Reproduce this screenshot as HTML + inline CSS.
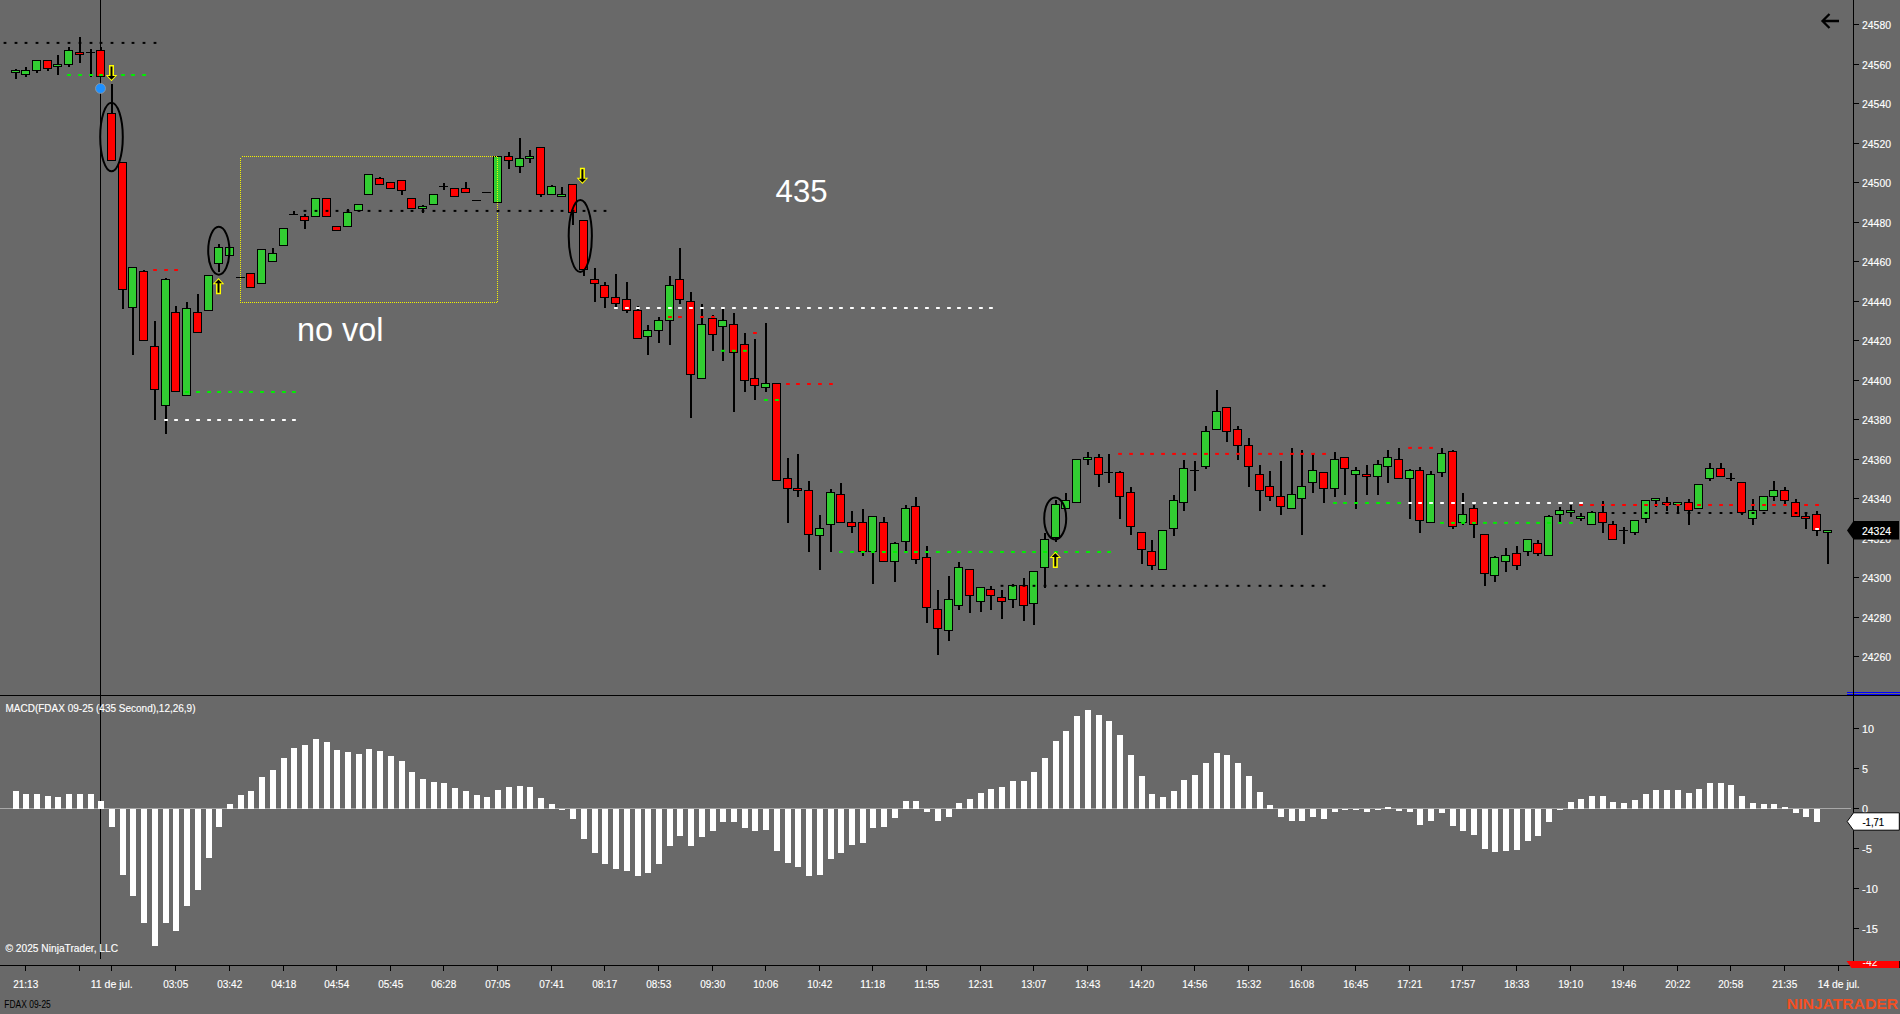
<!DOCTYPE html>
<html><head><meta charset="utf-8"><title>FDAX 09-25 chart</title>
<style>html,body{margin:0;padding:0;background:#696969;}body{width:1900px;height:1014px;overflow:hidden;}svg{display:block;}text{font-family:"Liberation Sans",sans-serif;}.st text,text.st{stroke:#fff;stroke-width:0.15px;}</style>
</head><body>
<svg width="1900" height="1014" viewBox="0 0 1900 1014" shape-rendering="crispEdges">
<rect x="0" y="0" width="1900" height="1014" fill="#696969"/>
<rect x="100" y="0" width="1" height="959" fill="#000"/>
<g id="candles">
<rect x="15" y="69" width="2" height="10" fill="#000"/>
<rect x="11" y="70" width="9" height="3" fill="#000"/><rect x="12" y="71" width="7" height="1" fill="#32cd32"/>
<rect x="25" y="67" width="2" height="10" fill="#000"/>
<rect x="21" y="70" width="9" height="5" fill="#000"/><rect x="22" y="71" width="7" height="3" fill="#32cd32"/>
<rect x="36" y="60" width="2" height="13" fill="#000"/>
<rect x="32" y="60" width="9" height="11" fill="#000"/><rect x="33" y="61" width="7" height="9" fill="#32cd32"/>
<rect x="47" y="60" width="2" height="11" fill="#000"/>
<rect x="43" y="60" width="9" height="9" fill="#000"/><rect x="44" y="61" width="7" height="7" fill="#ff0000"/>
<rect x="57" y="55" width="2" height="20" fill="#000"/>
<rect x="53" y="64" width="9" height="3" fill="#000"/><rect x="54" y="65" width="7" height="1" fill="#32cd32"/>
<rect x="68" y="47" width="2" height="20" fill="#000"/>
<rect x="64" y="50" width="9" height="15" fill="#000"/><rect x="65" y="51" width="7" height="13" fill="#32cd32"/>
<rect x="79" y="37" width="2" height="26" fill="#000"/>
<rect x="75" y="52" width="9" height="3" fill="#000"/><rect x="76" y="53" width="7" height="1" fill="#ff0000"/>
<rect x="90" y="49" width="2" height="28" fill="#000"/>
<rect x="86" y="52" width="9" height="1" fill="#000"/>
<rect x="100" y="47" width="2" height="30" fill="#000"/>
<rect x="96" y="50" width="9" height="27" fill="#000"/><rect x="97" y="51" width="7" height="25" fill="#ff0000"/>
<rect x="111" y="84" width="2" height="77" fill="#000"/>
<rect x="107" y="113" width="9" height="48" fill="#000"/><rect x="108" y="114" width="7" height="46" fill="#ff0000"/>
<rect x="122" y="162" width="2" height="147" fill="#000"/>
<rect x="118" y="162" width="9" height="128" fill="#000"/><rect x="119" y="163" width="7" height="126" fill="#ff0000"/>
<rect x="132" y="268" width="2" height="87" fill="#000"/>
<rect x="128" y="267" width="9" height="41" fill="#000"/><rect x="129" y="268" width="7" height="39" fill="#32cd32"/>
<rect x="143" y="270" width="2" height="71" fill="#000"/>
<rect x="139" y="271" width="9" height="70" fill="#000"/><rect x="140" y="272" width="7" height="68" fill="#ff0000"/>
<rect x="154" y="321" width="2" height="99" fill="#000"/>
<rect x="150" y="346" width="9" height="44" fill="#000"/><rect x="151" y="347" width="7" height="42" fill="#ff0000"/>
<rect x="165" y="278" width="2" height="156" fill="#000"/>
<rect x="161" y="279" width="9" height="127" fill="#000"/><rect x="162" y="280" width="7" height="125" fill="#32cd32"/>
<rect x="175" y="306" width="2" height="86" fill="#000"/>
<rect x="171" y="312" width="9" height="80" fill="#000"/><rect x="172" y="313" width="7" height="78" fill="#ff0000"/>
<rect x="186" y="302" width="2" height="94" fill="#000"/>
<rect x="182" y="308" width="9" height="88" fill="#000"/><rect x="183" y="309" width="7" height="86" fill="#32cd32"/>
<rect x="197" y="294" width="2" height="39" fill="#000"/>
<rect x="193" y="312" width="9" height="21" fill="#000"/><rect x="194" y="313" width="7" height="19" fill="#ff0000"/>
<rect x="208" y="275" width="2" height="36" fill="#000"/>
<rect x="204" y="275" width="9" height="36" fill="#000"/><rect x="205" y="276" width="7" height="34" fill="#32cd32"/>
<rect x="218" y="244" width="2" height="28" fill="#000"/>
<rect x="214" y="247" width="9" height="17" fill="#000"/><rect x="215" y="248" width="7" height="15" fill="#32cd32"/>
<rect x="225" y="247" width="9" height="9" fill="#000"/><rect x="226" y="248" width="7" height="7" fill="#32cd32"/>
<rect x="236" y="277" width="9" height="1" fill="#000"/>
<rect x="246" y="273" width="9" height="15" fill="#000"/><rect x="247" y="274" width="7" height="13" fill="#ff0000"/>
<rect x="257" y="249" width="9" height="35" fill="#000"/><rect x="258" y="250" width="7" height="33" fill="#32cd32"/>
<rect x="272" y="248" width="2" height="14" fill="#000"/>
<rect x="268" y="253" width="9" height="9" fill="#000"/><rect x="269" y="254" width="7" height="7" fill="#32cd32"/>
<rect x="279" y="228" width="9" height="18" fill="#000"/><rect x="280" y="229" width="7" height="16" fill="#32cd32"/>
<rect x="293" y="211" width="2" height="4" fill="#000"/>
<rect x="289" y="214" width="9" height="1" fill="#000"/>
<rect x="304" y="214" width="2" height="15" fill="#000"/>
<rect x="300" y="216" width="9" height="5" fill="#000"/><rect x="301" y="217" width="7" height="3" fill="#ff0000"/>
<rect x="311" y="198" width="9" height="19" fill="#000"/><rect x="312" y="199" width="7" height="17" fill="#32cd32"/>
<rect x="322" y="198" width="9" height="19" fill="#000"/><rect x="323" y="199" width="7" height="17" fill="#ff0000"/>
<rect x="332" y="226" width="9" height="5" fill="#000"/><rect x="333" y="227" width="7" height="3" fill="#ff0000"/>
<rect x="347" y="209" width="2" height="18" fill="#000"/>
<rect x="343" y="212" width="9" height="15" fill="#000"/><rect x="344" y="213" width="7" height="13" fill="#32cd32"/>
<rect x="354" y="204" width="9" height="7" fill="#000"/><rect x="355" y="205" width="7" height="5" fill="#32cd32"/>
<rect x="364" y="174" width="9" height="21" fill="#000"/><rect x="365" y="175" width="7" height="19" fill="#32cd32"/>
<rect x="379" y="177" width="2" height="8" fill="#000"/>
<rect x="375" y="178" width="9" height="7" fill="#000"/><rect x="376" y="179" width="7" height="5" fill="#ff0000"/>
<rect x="386" y="182" width="9" height="7" fill="#000"/><rect x="387" y="183" width="7" height="5" fill="#ff0000"/>
<rect x="401" y="180" width="2" height="15" fill="#000"/>
<rect x="397" y="180" width="9" height="11" fill="#000"/><rect x="398" y="181" width="7" height="9" fill="#ff0000"/>
<rect x="407" y="198" width="9" height="11" fill="#000"/><rect x="408" y="199" width="7" height="9" fill="#ff0000"/>
<rect x="422" y="205" width="2" height="8" fill="#000"/>
<rect x="418" y="206" width="9" height="3" fill="#000"/><rect x="419" y="207" width="7" height="1" fill="#32cd32"/>
<rect x="429" y="194" width="9" height="11" fill="#000"/><rect x="430" y="195" width="7" height="9" fill="#32cd32"/>
<rect x="443" y="183" width="2" height="7" fill="#000"/>
<rect x="439" y="186" width="9" height="1" fill="#000"/>
<rect x="450" y="188" width="9" height="9" fill="#000"/><rect x="451" y="189" width="7" height="7" fill="#ff0000"/>
<rect x="465" y="182" width="2" height="11" fill="#000"/>
<rect x="461" y="188" width="9" height="5" fill="#000"/><rect x="462" y="189" width="7" height="3" fill="#ff0000"/>
<rect x="472" y="200" width="9" height="1" fill="#000"/>
<rect x="482" y="192" width="9" height="1" fill="#000"/>
<rect x="493" y="156" width="9" height="47" fill="#000"/><rect x="494" y="157" width="7" height="45" fill="#32cd32"/>
<rect x="508" y="152" width="2" height="17" fill="#000"/>
<rect x="504" y="156" width="9" height="5" fill="#000"/><rect x="505" y="157" width="7" height="3" fill="#ff0000"/>
<rect x="519" y="138" width="2" height="35" fill="#000"/>
<rect x="515" y="158" width="9" height="9" fill="#000"/><rect x="516" y="159" width="7" height="7" fill="#32cd32"/>
<rect x="529" y="150" width="2" height="13" fill="#000"/>
<rect x="525" y="156" width="9" height="3" fill="#000"/><rect x="526" y="157" width="7" height="1" fill="#32cd32"/>
<rect x="540" y="147" width="2" height="50" fill="#000"/>
<rect x="536" y="147" width="9" height="48" fill="#000"/><rect x="537" y="148" width="7" height="46" fill="#ff0000"/>
<rect x="551" y="185" width="2" height="10" fill="#000"/>
<rect x="547" y="186" width="9" height="9" fill="#000"/><rect x="548" y="187" width="7" height="7" fill="#32cd32"/>
<rect x="561" y="187" width="2" height="10" fill="#000"/>
<rect x="557" y="194" width="9" height="3" fill="#000"/><rect x="558" y="195" width="7" height="1" fill="#32cd32"/>
<rect x="572" y="184" width="2" height="41" fill="#000"/>
<rect x="568" y="184" width="9" height="29" fill="#000"/><rect x="569" y="185" width="7" height="27" fill="#ff0000"/>
<rect x="583" y="220" width="2" height="56" fill="#000"/>
<rect x="579" y="220" width="9" height="50" fill="#000"/><rect x="580" y="221" width="7" height="48" fill="#ff0000"/>
<rect x="594" y="268" width="2" height="34" fill="#000"/>
<rect x="590" y="279" width="9" height="5" fill="#000"/><rect x="591" y="280" width="7" height="3" fill="#ff0000"/>
<rect x="604" y="282" width="2" height="26" fill="#000"/>
<rect x="600" y="285" width="9" height="13" fill="#000"/><rect x="601" y="286" width="7" height="11" fill="#ff0000"/>
<rect x="615" y="274" width="2" height="33" fill="#000"/>
<rect x="611" y="297" width="9" height="7" fill="#000"/><rect x="612" y="298" width="7" height="5" fill="#ff0000"/>
<rect x="626" y="282" width="2" height="31" fill="#000"/>
<rect x="622" y="299" width="9" height="12" fill="#000"/><rect x="623" y="300" width="7" height="10" fill="#ff0000"/>
<rect x="637" y="306" width="2" height="33" fill="#000"/>
<rect x="633" y="310" width="9" height="29" fill="#000"/><rect x="634" y="311" width="7" height="27" fill="#ff0000"/>
<rect x="647" y="325" width="2" height="30" fill="#000"/>
<rect x="643" y="330" width="9" height="7" fill="#000"/><rect x="644" y="331" width="7" height="5" fill="#32cd32"/>
<rect x="658" y="317" width="2" height="26" fill="#000"/>
<rect x="654" y="320" width="9" height="11" fill="#000"/><rect x="655" y="321" width="7" height="9" fill="#32cd32"/>
<rect x="669" y="276" width="2" height="69" fill="#000"/>
<rect x="665" y="285" width="9" height="36" fill="#000"/><rect x="666" y="286" width="7" height="34" fill="#32cd32"/>
<rect x="679" y="248" width="2" height="56" fill="#000"/>
<rect x="675" y="279" width="9" height="21" fill="#000"/><rect x="676" y="280" width="7" height="19" fill="#ff0000"/>
<rect x="690" y="292" width="2" height="126" fill="#000"/>
<rect x="686" y="301" width="9" height="74" fill="#000"/><rect x="687" y="302" width="7" height="72" fill="#ff0000"/>
<rect x="701" y="304" width="2" height="75" fill="#000"/>
<rect x="697" y="324" width="9" height="55" fill="#000"/><rect x="698" y="325" width="7" height="53" fill="#32cd32"/>
<rect x="712" y="315" width="2" height="36" fill="#000"/>
<rect x="708" y="318" width="9" height="17" fill="#000"/><rect x="709" y="319" width="7" height="15" fill="#ff0000"/>
<rect x="722" y="309" width="2" height="52" fill="#000"/>
<rect x="718" y="320" width="9" height="7" fill="#000"/><rect x="719" y="321" width="7" height="5" fill="#32cd32"/>
<rect x="733" y="313" width="2" height="99" fill="#000"/>
<rect x="729" y="324" width="9" height="29" fill="#000"/><rect x="730" y="325" width="7" height="27" fill="#ff0000"/>
<rect x="744" y="333" width="2" height="59" fill="#000"/>
<rect x="740" y="344" width="9" height="37" fill="#000"/><rect x="741" y="345" width="7" height="35" fill="#ff0000"/>
<rect x="754" y="339" width="2" height="61" fill="#000"/>
<rect x="750" y="378" width="9" height="8" fill="#000"/><rect x="751" y="379" width="7" height="6" fill="#ff0000"/>
<rect x="765" y="323" width="2" height="69" fill="#000"/>
<rect x="761" y="383" width="9" height="5" fill="#000"/><rect x="762" y="384" width="7" height="3" fill="#32cd32"/>
<rect x="772" y="383" width="9" height="98" fill="#000"/><rect x="773" y="384" width="7" height="96" fill="#ff0000"/>
<rect x="787" y="458" width="2" height="65" fill="#000"/>
<rect x="783" y="478" width="9" height="11" fill="#000"/><rect x="784" y="479" width="7" height="9" fill="#ff0000"/>
<rect x="797" y="454" width="2" height="43" fill="#000"/>
<rect x="793" y="488" width="9" height="3" fill="#000"/><rect x="794" y="489" width="7" height="1" fill="#ff0000"/>
<rect x="808" y="481" width="2" height="71" fill="#000"/>
<rect x="804" y="490" width="9" height="45" fill="#000"/><rect x="805" y="491" width="7" height="43" fill="#ff0000"/>
<rect x="819" y="515" width="2" height="55" fill="#000"/>
<rect x="815" y="528" width="9" height="8" fill="#000"/><rect x="816" y="529" width="7" height="6" fill="#32cd32"/>
<rect x="830" y="489" width="2" height="63" fill="#000"/>
<rect x="826" y="492" width="9" height="33" fill="#000"/><rect x="827" y="493" width="7" height="31" fill="#32cd32"/>
<rect x="840" y="483" width="2" height="40" fill="#000"/>
<rect x="836" y="494" width="9" height="29" fill="#000"/><rect x="837" y="495" width="7" height="27" fill="#ff0000"/>
<rect x="851" y="511" width="2" height="22" fill="#000"/>
<rect x="847" y="522" width="9" height="5" fill="#000"/><rect x="848" y="523" width="7" height="3" fill="#ff0000"/>
<rect x="862" y="509" width="2" height="47" fill="#000"/>
<rect x="858" y="522" width="9" height="30" fill="#000"/><rect x="859" y="523" width="7" height="28" fill="#ff0000"/>
<rect x="872" y="516" width="2" height="68" fill="#000"/>
<rect x="868" y="516" width="9" height="36" fill="#000"/><rect x="869" y="517" width="7" height="34" fill="#32cd32"/>
<rect x="883" y="517" width="2" height="45" fill="#000"/>
<rect x="879" y="522" width="9" height="40" fill="#000"/><rect x="880" y="523" width="7" height="38" fill="#ff0000"/>
<rect x="894" y="542" width="2" height="40" fill="#000"/>
<rect x="890" y="543" width="9" height="19" fill="#000"/><rect x="891" y="544" width="7" height="17" fill="#32cd32"/>
<rect x="905" y="505" width="2" height="46" fill="#000"/>
<rect x="901" y="508" width="9" height="34" fill="#000"/><rect x="902" y="509" width="7" height="32" fill="#32cd32"/>
<rect x="915" y="497" width="2" height="67" fill="#000"/>
<rect x="911" y="506" width="9" height="54" fill="#000"/><rect x="912" y="507" width="7" height="52" fill="#ff0000"/>
<rect x="926" y="546" width="2" height="77" fill="#000"/>
<rect x="922" y="557" width="9" height="51" fill="#000"/><rect x="923" y="558" width="7" height="49" fill="#ff0000"/>
<rect x="937" y="590" width="2" height="65" fill="#000"/>
<rect x="933" y="609" width="9" height="20" fill="#000"/><rect x="934" y="610" width="7" height="18" fill="#ff0000"/>
<rect x="948" y="576" width="2" height="65" fill="#000"/>
<rect x="944" y="599" width="9" height="32" fill="#000"/><rect x="945" y="600" width="7" height="30" fill="#32cd32"/>
<rect x="958" y="562" width="2" height="48" fill="#000"/>
<rect x="954" y="567" width="9" height="39" fill="#000"/><rect x="955" y="568" width="7" height="37" fill="#32cd32"/>
<rect x="969" y="569" width="2" height="44" fill="#000"/>
<rect x="965" y="569" width="9" height="27" fill="#000"/><rect x="966" y="570" width="7" height="25" fill="#ff0000"/>
<rect x="980" y="587" width="2" height="25" fill="#000"/>
<rect x="976" y="587" width="9" height="15" fill="#000"/><rect x="977" y="588" width="7" height="13" fill="#32cd32"/>
<rect x="990" y="586" width="2" height="24" fill="#000"/>
<rect x="986" y="589" width="9" height="7" fill="#000"/><rect x="987" y="590" width="7" height="5" fill="#ff0000"/>
<rect x="1001" y="590" width="2" height="29" fill="#000"/>
<rect x="997" y="597" width="9" height="5" fill="#000"/><rect x="998" y="598" width="7" height="3" fill="#ff0000"/>
<rect x="1012" y="584" width="2" height="24" fill="#000"/>
<rect x="1008" y="585" width="9" height="15" fill="#000"/><rect x="1009" y="586" width="7" height="13" fill="#32cd32"/>
<rect x="1023" y="578" width="2" height="43" fill="#000"/>
<rect x="1019" y="585" width="9" height="21" fill="#000"/><rect x="1020" y="586" width="7" height="19" fill="#ff0000"/>
<rect x="1033" y="571" width="2" height="54" fill="#000"/>
<rect x="1029" y="571" width="9" height="33" fill="#000"/><rect x="1030" y="572" width="7" height="31" fill="#32cd32"/>
<rect x="1044" y="533" width="2" height="55" fill="#000"/>
<rect x="1040" y="539" width="9" height="29" fill="#000"/><rect x="1041" y="540" width="7" height="27" fill="#32cd32"/>
<rect x="1055" y="500" width="2" height="42" fill="#000"/>
<rect x="1051" y="504" width="9" height="34" fill="#000"/><rect x="1052" y="505" width="7" height="32" fill="#32cd32"/>
<rect x="1065" y="493" width="2" height="16" fill="#000"/>
<rect x="1061" y="500" width="9" height="9" fill="#000"/><rect x="1062" y="501" width="7" height="7" fill="#32cd32"/>
<rect x="1072" y="459" width="9" height="44" fill="#000"/><rect x="1073" y="460" width="7" height="42" fill="#32cd32"/>
<rect x="1087" y="452" width="2" height="13" fill="#000"/>
<rect x="1083" y="457" width="9" height="3" fill="#000"/><rect x="1084" y="458" width="7" height="1" fill="#32cd32"/>
<rect x="1098" y="454" width="2" height="33" fill="#000"/>
<rect x="1094" y="457" width="9" height="18" fill="#000"/><rect x="1095" y="458" width="7" height="16" fill="#ff0000"/>
<rect x="1108" y="454" width="2" height="29" fill="#000"/>
<rect x="1104" y="472" width="9" height="1" fill="#000"/>
<rect x="1119" y="471" width="2" height="48" fill="#000"/>
<rect x="1115" y="472" width="9" height="25" fill="#000"/><rect x="1116" y="473" width="7" height="23" fill="#ff0000"/>
<rect x="1130" y="487" width="2" height="48" fill="#000"/>
<rect x="1126" y="492" width="9" height="35" fill="#000"/><rect x="1127" y="493" width="7" height="33" fill="#ff0000"/>
<rect x="1141" y="532" width="2" height="32" fill="#000"/>
<rect x="1137" y="532" width="9" height="18" fill="#000"/><rect x="1138" y="533" width="7" height="16" fill="#ff0000"/>
<rect x="1151" y="540" width="2" height="30" fill="#000"/>
<rect x="1147" y="551" width="9" height="15" fill="#000"/><rect x="1148" y="552" width="7" height="13" fill="#ff0000"/>
<rect x="1158" y="530" width="9" height="40" fill="#000"/><rect x="1159" y="531" width="7" height="38" fill="#32cd32"/>
<rect x="1173" y="495" width="2" height="41" fill="#000"/>
<rect x="1169" y="500" width="9" height="29" fill="#000"/><rect x="1170" y="501" width="7" height="27" fill="#32cd32"/>
<rect x="1183" y="460" width="2" height="51" fill="#000"/>
<rect x="1179" y="468" width="9" height="35" fill="#000"/><rect x="1180" y="469" width="7" height="33" fill="#32cd32"/>
<rect x="1194" y="461" width="2" height="30" fill="#000"/>
<rect x="1190" y="470" width="9" height="1" fill="#000"/>
<rect x="1205" y="426" width="2" height="43" fill="#000"/>
<rect x="1201" y="431" width="9" height="36" fill="#000"/><rect x="1202" y="432" width="7" height="34" fill="#32cd32"/>
<rect x="1216" y="390" width="2" height="40" fill="#000"/>
<rect x="1212" y="411" width="9" height="19" fill="#000"/><rect x="1213" y="412" width="7" height="17" fill="#32cd32"/>
<rect x="1226" y="407" width="2" height="35" fill="#000"/>
<rect x="1222" y="407" width="9" height="25" fill="#000"/><rect x="1223" y="408" width="7" height="23" fill="#ff0000"/>
<rect x="1237" y="426" width="2" height="34" fill="#000"/>
<rect x="1233" y="429" width="9" height="17" fill="#000"/><rect x="1234" y="430" width="7" height="15" fill="#ff0000"/>
<rect x="1248" y="438" width="2" height="49" fill="#000"/>
<rect x="1244" y="445" width="9" height="22" fill="#000"/><rect x="1245" y="446" width="7" height="20" fill="#ff0000"/>
<rect x="1259" y="465" width="2" height="46" fill="#000"/>
<rect x="1255" y="474" width="9" height="17" fill="#000"/><rect x="1256" y="475" width="7" height="15" fill="#ff0000"/>
<rect x="1269" y="471" width="2" height="30" fill="#000"/>
<rect x="1265" y="486" width="9" height="11" fill="#000"/><rect x="1266" y="487" width="7" height="9" fill="#ff0000"/>
<rect x="1280" y="461" width="2" height="54" fill="#000"/>
<rect x="1276" y="496" width="9" height="11" fill="#000"/><rect x="1277" y="497" width="7" height="9" fill="#ff0000"/>
<rect x="1291" y="448" width="2" height="61" fill="#000"/>
<rect x="1287" y="494" width="9" height="15" fill="#000"/><rect x="1288" y="495" width="7" height="13" fill="#32cd32"/>
<rect x="1301" y="450" width="2" height="85" fill="#000"/>
<rect x="1297" y="486" width="9" height="13" fill="#000"/><rect x="1298" y="487" width="7" height="11" fill="#32cd32"/>
<rect x="1312" y="454" width="2" height="39" fill="#000"/>
<rect x="1308" y="470" width="9" height="13" fill="#000"/><rect x="1309" y="471" width="7" height="11" fill="#32cd32"/>
<rect x="1323" y="472" width="2" height="31" fill="#000"/>
<rect x="1319" y="472" width="9" height="17" fill="#000"/><rect x="1320" y="473" width="7" height="15" fill="#ff0000"/>
<rect x="1334" y="452" width="2" height="45" fill="#000"/>
<rect x="1330" y="459" width="9" height="30" fill="#000"/><rect x="1331" y="460" width="7" height="28" fill="#32cd32"/>
<rect x="1344" y="457" width="2" height="38" fill="#000"/>
<rect x="1340" y="457" width="9" height="12" fill="#000"/><rect x="1341" y="458" width="7" height="10" fill="#ff0000"/>
<rect x="1355" y="467" width="2" height="42" fill="#000"/>
<rect x="1351" y="470" width="9" height="5" fill="#000"/><rect x="1352" y="471" width="7" height="3" fill="#32cd32"/>
<rect x="1366" y="465" width="2" height="30" fill="#000"/>
<rect x="1362" y="474" width="9" height="3" fill="#000"/><rect x="1363" y="475" width="7" height="1" fill="#ff0000"/>
<rect x="1377" y="460" width="2" height="35" fill="#000"/>
<rect x="1373" y="464" width="9" height="13" fill="#000"/><rect x="1374" y="465" width="7" height="11" fill="#32cd32"/>
<rect x="1387" y="450" width="2" height="33" fill="#000"/>
<rect x="1383" y="457" width="9" height="10" fill="#000"/><rect x="1384" y="458" width="7" height="8" fill="#32cd32"/>
<rect x="1398" y="448" width="2" height="31" fill="#000"/>
<rect x="1394" y="459" width="9" height="20" fill="#000"/><rect x="1395" y="460" width="7" height="18" fill="#ff0000"/>
<rect x="1409" y="469" width="2" height="50" fill="#000"/>
<rect x="1405" y="470" width="9" height="9" fill="#000"/><rect x="1406" y="471" width="7" height="7" fill="#32cd32"/>
<rect x="1419" y="467" width="2" height="66" fill="#000"/>
<rect x="1415" y="470" width="9" height="51" fill="#000"/><rect x="1416" y="471" width="7" height="49" fill="#ff0000"/>
<rect x="1430" y="471" width="2" height="52" fill="#000"/>
<rect x="1426" y="474" width="9" height="49" fill="#000"/><rect x="1427" y="475" width="7" height="47" fill="#32cd32"/>
<rect x="1441" y="448" width="2" height="29" fill="#000"/>
<rect x="1437" y="453" width="9" height="20" fill="#000"/><rect x="1438" y="454" width="7" height="18" fill="#32cd32"/>
<rect x="1452" y="450" width="2" height="79" fill="#000"/>
<rect x="1448" y="451" width="9" height="76" fill="#000"/><rect x="1449" y="452" width="7" height="74" fill="#ff0000"/>
<rect x="1462" y="493" width="2" height="32" fill="#000"/>
<rect x="1458" y="514" width="9" height="9" fill="#000"/><rect x="1459" y="515" width="7" height="7" fill="#32cd32"/>
<rect x="1473" y="505" width="2" height="33" fill="#000"/>
<rect x="1469" y="508" width="9" height="17" fill="#000"/><rect x="1470" y="509" width="7" height="15" fill="#ff0000"/>
<rect x="1484" y="534" width="2" height="52" fill="#000"/>
<rect x="1480" y="534" width="9" height="40" fill="#000"/><rect x="1481" y="535" width="7" height="38" fill="#ff0000"/>
<rect x="1494" y="556" width="2" height="26" fill="#000"/>
<rect x="1490" y="557" width="9" height="19" fill="#000"/><rect x="1491" y="558" width="7" height="17" fill="#32cd32"/>
<rect x="1505" y="548" width="2" height="24" fill="#000"/>
<rect x="1501" y="555" width="9" height="7" fill="#000"/><rect x="1502" y="556" width="7" height="5" fill="#32cd32"/>
<rect x="1516" y="546" width="2" height="24" fill="#000"/>
<rect x="1512" y="553" width="9" height="13" fill="#000"/><rect x="1513" y="554" width="7" height="11" fill="#ff0000"/>
<rect x="1527" y="539" width="2" height="17" fill="#000"/>
<rect x="1523" y="539" width="9" height="13" fill="#000"/><rect x="1524" y="540" width="7" height="11" fill="#32cd32"/>
<rect x="1537" y="540" width="2" height="16" fill="#000"/>
<rect x="1533" y="543" width="9" height="11" fill="#000"/><rect x="1534" y="544" width="7" height="9" fill="#ff0000"/>
<rect x="1548" y="515" width="2" height="41" fill="#000"/>
<rect x="1544" y="516" width="9" height="40" fill="#000"/><rect x="1545" y="517" width="7" height="38" fill="#32cd32"/>
<rect x="1559" y="507" width="2" height="16" fill="#000"/>
<rect x="1555" y="510" width="9" height="5" fill="#000"/><rect x="1556" y="511" width="7" height="3" fill="#32cd32"/>
<rect x="1570" y="505" width="2" height="12" fill="#000"/>
<rect x="1566" y="510" width="9" height="3" fill="#000"/><rect x="1567" y="511" width="7" height="1" fill="#32cd32"/>
<rect x="1580" y="513" width="2" height="8" fill="#000"/>
<rect x="1576" y="516" width="9" height="3" fill="#000"/><rect x="1577" y="517" width="7" height="1" fill="#32cd32"/>
<rect x="1591" y="511" width="2" height="14" fill="#000"/>
<rect x="1587" y="512" width="9" height="13" fill="#000"/><rect x="1588" y="513" width="7" height="11" fill="#32cd32"/>
<rect x="1602" y="501" width="2" height="32" fill="#000"/>
<rect x="1598" y="512" width="9" height="11" fill="#000"/><rect x="1599" y="513" width="7" height="9" fill="#ff0000"/>
<rect x="1612" y="521" width="2" height="19" fill="#000"/>
<rect x="1608" y="524" width="9" height="16" fill="#000"/><rect x="1609" y="525" width="7" height="14" fill="#ff0000"/>
<rect x="1623" y="527" width="2" height="17" fill="#000"/>
<rect x="1619" y="530" width="9" height="1" fill="#000"/>
<rect x="1634" y="520" width="2" height="15" fill="#000"/>
<rect x="1630" y="520" width="9" height="13" fill="#000"/><rect x="1631" y="521" width="7" height="11" fill="#32cd32"/>
<rect x="1645" y="500" width="2" height="23" fill="#000"/>
<rect x="1641" y="500" width="9" height="19" fill="#000"/><rect x="1642" y="501" width="7" height="17" fill="#32cd32"/>
<rect x="1655" y="498" width="2" height="9" fill="#000"/>
<rect x="1651" y="498" width="9" height="3" fill="#000"/><rect x="1652" y="499" width="7" height="1" fill="#32cd32"/>
<rect x="1666" y="497" width="2" height="14" fill="#000"/>
<rect x="1662" y="502" width="9" height="3" fill="#000"/><rect x="1663" y="503" width="7" height="1" fill="#ff0000"/>
<rect x="1677" y="502" width="2" height="12" fill="#000"/>
<rect x="1673" y="502" width="9" height="3" fill="#000"/><rect x="1674" y="503" width="7" height="1" fill="#32cd32"/>
<rect x="1688" y="499" width="2" height="26" fill="#000"/>
<rect x="1684" y="502" width="9" height="9" fill="#000"/><rect x="1685" y="503" width="7" height="7" fill="#ff0000"/>
<rect x="1694" y="484" width="9" height="25" fill="#000"/><rect x="1695" y="485" width="7" height="23" fill="#32cd32"/>
<rect x="1709" y="463" width="2" height="18" fill="#000"/>
<rect x="1705" y="468" width="9" height="11" fill="#000"/><rect x="1706" y="469" width="7" height="9" fill="#32cd32"/>
<rect x="1720" y="463" width="2" height="14" fill="#000"/>
<rect x="1716" y="468" width="9" height="9" fill="#000"/><rect x="1717" y="469" width="7" height="7" fill="#ff0000"/>
<rect x="1730" y="473" width="2" height="8" fill="#000"/>
<rect x="1726" y="478" width="9" height="1" fill="#000"/>
<rect x="1741" y="482" width="2" height="33" fill="#000"/>
<rect x="1737" y="482" width="9" height="31" fill="#000"/><rect x="1738" y="483" width="7" height="29" fill="#ff0000"/>
<rect x="1752" y="499" width="2" height="26" fill="#000"/>
<rect x="1748" y="510" width="9" height="9" fill="#000"/><rect x="1749" y="511" width="7" height="7" fill="#32cd32"/>
<rect x="1759" y="496" width="9" height="15" fill="#000"/><rect x="1760" y="497" width="7" height="13" fill="#32cd32"/>
<rect x="1773" y="481" width="2" height="20" fill="#000"/>
<rect x="1769" y="490" width="9" height="7" fill="#000"/><rect x="1770" y="491" width="7" height="5" fill="#32cd32"/>
<rect x="1784" y="487" width="2" height="17" fill="#000"/>
<rect x="1780" y="490" width="9" height="11" fill="#000"/><rect x="1781" y="491" width="7" height="9" fill="#ff0000"/>
<rect x="1795" y="499" width="2" height="18" fill="#000"/>
<rect x="1791" y="502" width="9" height="15" fill="#000"/><rect x="1792" y="503" width="7" height="13" fill="#ff0000"/>
<rect x="1805" y="513" width="2" height="16" fill="#000"/>
<rect x="1801" y="516" width="9" height="3" fill="#000"/><rect x="1802" y="517" width="7" height="1" fill="#ff0000"/>
<rect x="1816" y="511" width="2" height="25" fill="#000"/>
<rect x="1812" y="514" width="9" height="17" fill="#000"/><rect x="1813" y="515" width="7" height="15" fill="#ff0000"/>
<rect x="1827" y="530" width="2" height="34" fill="#000"/>
<rect x="1823" y="530" width="9" height="3" fill="#000"/><rect x="1824" y="531" width="7" height="1" fill="#32cd32"/>
</g>
<rect x="240.5" y="156.5" width="257" height="145.5" fill="none" stroke="#f5f500" stroke-width="1" stroke-dasharray="1,1" stroke-dashoffset="1"/>
<g id="lines" shape-rendering="auto">
<rect x="3.6" y="41.9" width="2.8" height="2" fill="#000"/>
<rect x="14.6" y="41.9" width="2.8" height="2" fill="#000"/>
<rect x="24.6" y="41.9" width="2.8" height="2" fill="#000"/>
<rect x="35.6" y="41.9" width="2.8" height="2" fill="#000"/>
<rect x="46.6" y="41.9" width="2.8" height="2" fill="#000"/>
<rect x="56.6" y="41.9" width="2.8" height="2" fill="#000"/>
<rect x="67.6" y="41.9" width="2.8" height="2" fill="#000"/>
<rect x="78.6" y="41.9" width="2.8" height="2" fill="#000"/>
<rect x="89.6" y="41.9" width="2.8" height="2" fill="#000"/>
<rect x="99.6" y="41.9" width="2.8" height="2" fill="#000"/>
<rect x="110.6" y="41.9" width="2.8" height="2" fill="#000"/>
<rect x="121.6" y="41.9" width="2.8" height="2" fill="#000"/>
<rect x="131.6" y="41.9" width="2.8" height="2" fill="#000"/>
<rect x="142.6" y="41.9" width="2.8" height="2" fill="#000"/>
<rect x="153.6" y="41.9" width="2.8" height="2" fill="#000"/>
<rect x="67.2" y="74" width="3.7" height="2" fill="#00f000"/>
<rect x="78.2" y="74" width="3.7" height="2" fill="#00f000"/>
<rect x="89.2" y="74" width="3.7" height="2" fill="#00f000"/>
<rect x="99.2" y="74" width="3.7" height="2" fill="#00f000"/>
<rect x="110.2" y="74" width="3.7" height="2" fill="#00f000"/>
<rect x="121.2" y="74" width="3.7" height="2" fill="#00f000"/>
<rect x="131.2" y="74" width="3.7" height="2" fill="#00f000"/>
<rect x="142.2" y="74" width="3.7" height="2" fill="#00f000"/>
<rect x="153.2" y="269" width="3.7" height="2" fill="#ff0000"/>
<rect x="164.2" y="269" width="3.7" height="2" fill="#ff0000"/>
<rect x="174.2" y="269" width="3.7" height="2" fill="#ff0000"/>
<rect x="185.2" y="391" width="3.7" height="2" fill="#00f000"/>
<rect x="196.2" y="391" width="3.7" height="2" fill="#00f000"/>
<rect x="207.2" y="391" width="3.7" height="2" fill="#00f000"/>
<rect x="217.2" y="391" width="3.7" height="2" fill="#00f000"/>
<rect x="228.2" y="391" width="3.7" height="2" fill="#00f000"/>
<rect x="239.2" y="391" width="3.7" height="2" fill="#00f000"/>
<rect x="249.2" y="391" width="3.7" height="2" fill="#00f000"/>
<rect x="260.1" y="391" width="3.7" height="2" fill="#00f000"/>
<rect x="271.1" y="391" width="3.7" height="2" fill="#00f000"/>
<rect x="282.1" y="391" width="3.7" height="2" fill="#00f000"/>
<rect x="292.1" y="391" width="3.7" height="2" fill="#00f000"/>
<rect x="164.2" y="419" width="3.7" height="2" fill="#fff"/>
<rect x="174.2" y="419" width="3.7" height="2" fill="#fff"/>
<rect x="185.2" y="419" width="3.7" height="2" fill="#fff"/>
<rect x="196.2" y="419" width="3.7" height="2" fill="#fff"/>
<rect x="207.2" y="419" width="3.7" height="2" fill="#fff"/>
<rect x="217.2" y="419" width="3.7" height="2" fill="#fff"/>
<rect x="228.2" y="419" width="3.7" height="2" fill="#fff"/>
<rect x="239.2" y="419" width="3.7" height="2" fill="#fff"/>
<rect x="249.2" y="419" width="3.7" height="2" fill="#fff"/>
<rect x="260.1" y="419" width="3.7" height="2" fill="#fff"/>
<rect x="271.1" y="419" width="3.7" height="2" fill="#fff"/>
<rect x="282.1" y="419" width="3.7" height="2" fill="#fff"/>
<rect x="292.1" y="419" width="3.7" height="2" fill="#fff"/>
<rect x="303.6" y="209.9" width="2.8" height="2" fill="#000"/>
<rect x="314.6" y="209.9" width="2.8" height="2" fill="#000"/>
<rect x="325.6" y="209.9" width="2.8" height="2" fill="#000"/>
<rect x="335.6" y="209.9" width="2.8" height="2" fill="#000"/>
<rect x="346.6" y="209.9" width="2.8" height="2" fill="#000"/>
<rect x="357.6" y="209.9" width="2.8" height="2" fill="#000"/>
<rect x="367.6" y="209.9" width="2.8" height="2" fill="#000"/>
<rect x="378.6" y="209.9" width="2.8" height="2" fill="#000"/>
<rect x="389.6" y="209.9" width="2.8" height="2" fill="#000"/>
<rect x="400.6" y="209.9" width="2.8" height="2" fill="#000"/>
<rect x="410.6" y="209.9" width="2.8" height="2" fill="#000"/>
<rect x="421.6" y="209.9" width="2.8" height="2" fill="#000"/>
<rect x="432.6" y="209.9" width="2.8" height="2" fill="#000"/>
<rect x="442.6" y="209.9" width="2.8" height="2" fill="#000"/>
<rect x="453.6" y="209.9" width="2.8" height="2" fill="#000"/>
<rect x="464.6" y="209.9" width="2.8" height="2" fill="#000"/>
<rect x="475.6" y="209.9" width="2.8" height="2" fill="#000"/>
<rect x="485.6" y="209.9" width="2.8" height="2" fill="#000"/>
<rect x="496.6" y="209.9" width="2.8" height="2" fill="#000"/>
<rect x="507.6" y="209.9" width="2.8" height="2" fill="#000"/>
<rect x="518.6" y="209.9" width="2.8" height="2" fill="#000"/>
<rect x="528.6" y="209.9" width="2.8" height="2" fill="#000"/>
<rect x="539.6" y="209.9" width="2.8" height="2" fill="#000"/>
<rect x="550.6" y="209.9" width="2.8" height="2" fill="#000"/>
<rect x="560.6" y="209.9" width="2.8" height="2" fill="#000"/>
<rect x="571.6" y="209.9" width="2.8" height="2" fill="#000"/>
<rect x="582.6" y="209.9" width="2.8" height="2" fill="#000"/>
<rect x="593.6" y="209.9" width="2.8" height="2" fill="#000"/>
<rect x="603.6" y="209.9" width="2.8" height="2" fill="#000"/>
<rect x="614.1" y="307" width="3.7" height="2" fill="#fff"/>
<rect x="625.1" y="307" width="3.7" height="2" fill="#fff"/>
<rect x="636.1" y="307" width="3.7" height="2" fill="#fff"/>
<rect x="646.1" y="307" width="3.7" height="2" fill="#fff"/>
<rect x="657.1" y="307" width="3.7" height="2" fill="#fff"/>
<rect x="668.1" y="307" width="3.7" height="2" fill="#fff"/>
<rect x="678.1" y="307" width="3.7" height="2" fill="#fff"/>
<rect x="689.1" y="307" width="3.7" height="2" fill="#fff"/>
<rect x="700.1" y="307" width="3.7" height="2" fill="#fff"/>
<rect x="711.1" y="307" width="3.7" height="2" fill="#fff"/>
<rect x="721.1" y="307" width="3.7" height="2" fill="#fff"/>
<rect x="732.1" y="307" width="3.7" height="2" fill="#fff"/>
<rect x="743.1" y="307" width="3.7" height="2" fill="#fff"/>
<rect x="753.1" y="307" width="3.7" height="2" fill="#fff"/>
<rect x="764.1" y="307" width="3.7" height="2" fill="#fff"/>
<rect x="775.1" y="307" width="3.7" height="2" fill="#fff"/>
<rect x="786.1" y="307" width="3.7" height="2" fill="#fff"/>
<rect x="796.1" y="307" width="3.7" height="2" fill="#fff"/>
<rect x="807.1" y="307" width="3.7" height="2" fill="#fff"/>
<rect x="818.1" y="307" width="3.7" height="2" fill="#fff"/>
<rect x="829.1" y="307" width="3.7" height="2" fill="#fff"/>
<rect x="839.1" y="307" width="3.7" height="2" fill="#fff"/>
<rect x="850.1" y="307" width="3.7" height="2" fill="#fff"/>
<rect x="861.1" y="307" width="3.7" height="2" fill="#fff"/>
<rect x="871.1" y="307" width="3.7" height="2" fill="#fff"/>
<rect x="882.1" y="307" width="3.7" height="2" fill="#fff"/>
<rect x="893.1" y="307" width="3.7" height="2" fill="#fff"/>
<rect x="904.1" y="307" width="3.7" height="2" fill="#fff"/>
<rect x="914.1" y="307" width="3.7" height="2" fill="#fff"/>
<rect x="925.1" y="307" width="3.7" height="2" fill="#fff"/>
<rect x="936.1" y="307" width="3.7" height="2" fill="#fff"/>
<rect x="947.1" y="307" width="3.7" height="2" fill="#fff"/>
<rect x="957.1" y="307" width="3.7" height="2" fill="#fff"/>
<rect x="968.1" y="307" width="3.7" height="2" fill="#fff"/>
<rect x="979.1" y="307" width="3.7" height="2" fill="#fff"/>
<rect x="989.1" y="307" width="3.7" height="2" fill="#fff"/>
<rect x="668.1" y="316" width="3.7" height="2" fill="#ff0000"/>
<rect x="678.1" y="316" width="3.7" height="2" fill="#ff0000"/>
<rect x="689.1" y="316" width="3.7" height="2" fill="#ff0000"/>
<rect x="700.1" y="316" width="3.7" height="2" fill="#ff0000"/>
<rect x="711.1" y="316" width="3.7" height="2" fill="#ff0000"/>
<rect x="753.1" y="332" width="3.7" height="2" fill="#ff0000"/>
<rect x="721.1" y="349.8" width="3.7" height="2" fill="#00f000"/>
<rect x="732.1" y="349.8" width="3.7" height="2" fill="#00f000"/>
<rect x="743.1" y="349.8" width="3.7" height="2" fill="#00f000"/>
<rect x="786.1" y="383" width="3.7" height="2" fill="#ff0000"/>
<rect x="796.1" y="383" width="3.7" height="2" fill="#ff0000"/>
<rect x="807.1" y="383" width="3.7" height="2" fill="#ff0000"/>
<rect x="818.1" y="383" width="3.7" height="2" fill="#ff0000"/>
<rect x="829.1" y="383" width="3.7" height="2" fill="#ff0000"/>
<rect x="764.1" y="399" width="3.7" height="2" fill="#00f000"/>
<rect x="775.1" y="399" width="3.7" height="2" fill="#00f000"/>
<rect x="839.1" y="551" width="3.7" height="2" fill="#00f000"/>
<rect x="850.1" y="551" width="3.7" height="2" fill="#00f000"/>
<rect x="861.1" y="551" width="3.7" height="2" fill="#00f000"/>
<rect x="871.1" y="551" width="3.7" height="2" fill="#00f000"/>
<rect x="882.1" y="551" width="3.7" height="2" fill="#00f000"/>
<rect x="893.1" y="551" width="3.7" height="2" fill="#00f000"/>
<rect x="904.1" y="551" width="3.7" height="2" fill="#00f000"/>
<rect x="914.1" y="551" width="3.7" height="2" fill="#00f000"/>
<rect x="925.1" y="551" width="3.7" height="2" fill="#00f000"/>
<rect x="936.1" y="551" width="3.7" height="2" fill="#00f000"/>
<rect x="947.1" y="551" width="3.7" height="2" fill="#00f000"/>
<rect x="957.1" y="551" width="3.7" height="2" fill="#00f000"/>
<rect x="968.1" y="551" width="3.7" height="2" fill="#00f000"/>
<rect x="979.1" y="551" width="3.7" height="2" fill="#00f000"/>
<rect x="989.1" y="551" width="3.7" height="2" fill="#00f000"/>
<rect x="1000.1" y="551" width="3.7" height="2" fill="#00f000"/>
<rect x="1011.1" y="551" width="3.7" height="2" fill="#00f000"/>
<rect x="1022.1" y="551" width="3.7" height="2" fill="#00f000"/>
<rect x="1032.2" y="551" width="3.7" height="2" fill="#00f000"/>
<rect x="1043.2" y="551" width="3.7" height="2" fill="#00f000"/>
<rect x="1054.2" y="551" width="3.7" height="2" fill="#00f000"/>
<rect x="1064.2" y="551" width="3.7" height="2" fill="#00f000"/>
<rect x="1075.2" y="551" width="3.7" height="2" fill="#00f000"/>
<rect x="1086.2" y="551" width="3.7" height="2" fill="#00f000"/>
<rect x="1097.2" y="551" width="3.7" height="2" fill="#00f000"/>
<rect x="1107.2" y="551" width="3.7" height="2" fill="#00f000"/>
<rect x="1000.6" y="584.8" width="2.8" height="2" fill="#000"/>
<rect x="1011.6" y="584.8" width="2.8" height="2" fill="#000"/>
<rect x="1022.6" y="584.8" width="2.8" height="2" fill="#000"/>
<rect x="1032.6" y="584.8" width="2.8" height="2" fill="#000"/>
<rect x="1043.6" y="584.8" width="2.8" height="2" fill="#000"/>
<rect x="1054.6" y="584.8" width="2.8" height="2" fill="#000"/>
<rect x="1064.6" y="584.8" width="2.8" height="2" fill="#000"/>
<rect x="1075.6" y="584.8" width="2.8" height="2" fill="#000"/>
<rect x="1086.6" y="584.8" width="2.8" height="2" fill="#000"/>
<rect x="1097.6" y="584.8" width="2.8" height="2" fill="#000"/>
<rect x="1107.6" y="584.8" width="2.8" height="2" fill="#000"/>
<rect x="1118.6" y="584.8" width="2.8" height="2" fill="#000"/>
<rect x="1129.6" y="584.8" width="2.8" height="2" fill="#000"/>
<rect x="1140.6" y="584.8" width="2.8" height="2" fill="#000"/>
<rect x="1150.6" y="584.8" width="2.8" height="2" fill="#000"/>
<rect x="1161.6" y="584.8" width="2.8" height="2" fill="#000"/>
<rect x="1172.6" y="584.8" width="2.8" height="2" fill="#000"/>
<rect x="1182.6" y="584.8" width="2.8" height="2" fill="#000"/>
<rect x="1193.6" y="584.8" width="2.8" height="2" fill="#000"/>
<rect x="1204.6" y="584.8" width="2.8" height="2" fill="#000"/>
<rect x="1215.6" y="584.8" width="2.8" height="2" fill="#000"/>
<rect x="1225.6" y="584.8" width="2.8" height="2" fill="#000"/>
<rect x="1236.6" y="584.8" width="2.8" height="2" fill="#000"/>
<rect x="1247.6" y="584.8" width="2.8" height="2" fill="#000"/>
<rect x="1258.6" y="584.8" width="2.8" height="2" fill="#000"/>
<rect x="1268.6" y="584.8" width="2.8" height="2" fill="#000"/>
<rect x="1279.6" y="584.8" width="2.8" height="2" fill="#000"/>
<rect x="1290.6" y="584.8" width="2.8" height="2" fill="#000"/>
<rect x="1300.6" y="584.8" width="2.8" height="2" fill="#000"/>
<rect x="1311.6" y="584.8" width="2.8" height="2" fill="#000"/>
<rect x="1322.6" y="584.8" width="2.8" height="2" fill="#000"/>
<rect x="1118.2" y="452.9" width="3.7" height="2" fill="#ff0000"/>
<rect x="1129.2" y="452.9" width="3.7" height="2" fill="#ff0000"/>
<rect x="1140.2" y="452.9" width="3.7" height="2" fill="#ff0000"/>
<rect x="1150.2" y="452.9" width="3.7" height="2" fill="#ff0000"/>
<rect x="1161.2" y="452.9" width="3.7" height="2" fill="#ff0000"/>
<rect x="1172.2" y="452.9" width="3.7" height="2" fill="#ff0000"/>
<rect x="1182.2" y="452.9" width="3.7" height="2" fill="#ff0000"/>
<rect x="1193.2" y="452.9" width="3.7" height="2" fill="#ff0000"/>
<rect x="1204.2" y="452.9" width="3.7" height="2" fill="#ff0000"/>
<rect x="1215.2" y="452.9" width="3.7" height="2" fill="#ff0000"/>
<rect x="1225.2" y="452.9" width="3.7" height="2" fill="#ff0000"/>
<rect x="1236.2" y="452.9" width="3.7" height="2" fill="#ff0000"/>
<rect x="1247.2" y="452.9" width="3.7" height="2" fill="#ff0000"/>
<rect x="1258.2" y="452.9" width="3.7" height="2" fill="#ff0000"/>
<rect x="1268.2" y="452.9" width="3.7" height="2" fill="#ff0000"/>
<rect x="1279.2" y="452.9" width="3.7" height="2" fill="#ff0000"/>
<rect x="1290.2" y="452.9" width="3.7" height="2" fill="#ff0000"/>
<rect x="1300.2" y="452.9" width="3.7" height="2" fill="#ff0000"/>
<rect x="1311.2" y="452.9" width="3.7" height="2" fill="#ff0000"/>
<rect x="1322.2" y="452.9" width="3.7" height="2" fill="#ff0000"/>
<rect x="1408.2" y="446.9" width="3.7" height="2" fill="#ff0000"/>
<rect x="1418.2" y="446.9" width="3.7" height="2" fill="#ff0000"/>
<rect x="1429.2" y="446.9" width="3.7" height="2" fill="#ff0000"/>
<rect x="1333.2" y="502" width="3.7" height="2" fill="#00f000"/>
<rect x="1343.2" y="502" width="3.7" height="2" fill="#00f000"/>
<rect x="1354.2" y="502" width="3.7" height="2" fill="#00f000"/>
<rect x="1365.2" y="502" width="3.7" height="2" fill="#00f000"/>
<rect x="1376.2" y="502" width="3.7" height="2" fill="#00f000"/>
<rect x="1386.2" y="502" width="3.7" height="2" fill="#00f000"/>
<rect x="1397.2" y="502" width="3.7" height="2" fill="#00f000"/>
<rect x="1408.2" y="502" width="3.7" height="2" fill="#fff"/>
<rect x="1418.2" y="502" width="3.7" height="2" fill="#fff"/>
<rect x="1429.2" y="502" width="3.7" height="2" fill="#fff"/>
<rect x="1440.2" y="502" width="3.7" height="2" fill="#fff"/>
<rect x="1451.2" y="502" width="3.7" height="2" fill="#fff"/>
<rect x="1461.2" y="502" width="3.7" height="2" fill="#fff"/>
<rect x="1472.2" y="502" width="3.7" height="2" fill="#fff"/>
<rect x="1483.2" y="502" width="3.7" height="2" fill="#fff"/>
<rect x="1493.2" y="502" width="3.7" height="2" fill="#fff"/>
<rect x="1504.2" y="502" width="3.7" height="2" fill="#fff"/>
<rect x="1515.2" y="502" width="3.7" height="2" fill="#fff"/>
<rect x="1526.2" y="502" width="3.7" height="2" fill="#fff"/>
<rect x="1536.2" y="502" width="3.7" height="2" fill="#fff"/>
<rect x="1547.2" y="502" width="3.7" height="2" fill="#fff"/>
<rect x="1558.2" y="502" width="3.7" height="2" fill="#fff"/>
<rect x="1569.2" y="502" width="3.7" height="2" fill="#fff"/>
<rect x="1579.2" y="502" width="3.7" height="2" fill="#fff"/>
<rect x="1440.2" y="521.9" width="3.7" height="2" fill="#00f000"/>
<rect x="1451.2" y="521.9" width="3.7" height="2" fill="#00f000"/>
<rect x="1461.2" y="521.9" width="3.7" height="2" fill="#00f000"/>
<rect x="1472.2" y="521.9" width="3.7" height="2" fill="#00f000"/>
<rect x="1483.2" y="521.9" width="3.7" height="2" fill="#00f000"/>
<rect x="1493.2" y="521.9" width="3.7" height="2" fill="#00f000"/>
<rect x="1504.2" y="521.9" width="3.7" height="2" fill="#00f000"/>
<rect x="1515.2" y="521.9" width="3.7" height="2" fill="#00f000"/>
<rect x="1526.2" y="521.9" width="3.7" height="2" fill="#00f000"/>
<rect x="1536.2" y="521.9" width="3.7" height="2" fill="#00f000"/>
<rect x="1547.2" y="521.9" width="3.7" height="2" fill="#00f000"/>
<rect x="1558.2" y="521.9" width="3.7" height="2" fill="#00f000"/>
<rect x="1569.2" y="521.9" width="3.7" height="2" fill="#00f000"/>
<rect x="1579.2" y="504" width="3.7" height="2" fill="#ff0000"/>
<rect x="1590.2" y="504" width="3.7" height="2" fill="#ff0000"/>
<rect x="1601.2" y="504" width="3.7" height="2" fill="#ff0000"/>
<rect x="1611.2" y="504" width="3.7" height="2" fill="#ff0000"/>
<rect x="1622.2" y="504" width="3.7" height="2" fill="#ff0000"/>
<rect x="1633.2" y="504" width="3.7" height="2" fill="#ff0000"/>
<rect x="1644.2" y="504" width="3.7" height="2" fill="#ff0000"/>
<rect x="1654.2" y="504" width="3.7" height="2" fill="#ff0000"/>
<rect x="1665.2" y="504" width="3.7" height="2" fill="#ff0000"/>
<rect x="1676.2" y="504" width="3.7" height="2" fill="#ff0000"/>
<rect x="1687.2" y="504" width="3.7" height="2" fill="#ff0000"/>
<rect x="1697.2" y="504" width="3.7" height="2" fill="#ff0000"/>
<rect x="1708.2" y="504" width="3.7" height="2" fill="#ff0000"/>
<rect x="1719.2" y="504" width="3.7" height="2" fill="#ff0000"/>
<rect x="1729.2" y="504" width="3.7" height="2" fill="#ff0000"/>
<rect x="1740.2" y="504" width="3.7" height="2" fill="#ff0000"/>
<rect x="1751.2" y="504" width="3.7" height="2" fill="#ff0000"/>
<rect x="1762.2" y="504" width="3.7" height="2" fill="#ff0000"/>
<rect x="1772.2" y="504" width="3.7" height="2" fill="#ff0000"/>
<rect x="1783.2" y="504" width="3.7" height="2" fill="#ff0000"/>
<rect x="1794.2" y="504" width="3.7" height="2" fill="#ff0000"/>
<rect x="1804.2" y="504" width="3.7" height="2" fill="#ff0000"/>
<rect x="1815.2" y="504" width="3.7" height="2" fill="#ff0000"/>
<rect x="1611.6" y="512" width="2.8" height="2" fill="#000"/>
<rect x="1622.6" y="512" width="2.8" height="2" fill="#000"/>
<rect x="1633.6" y="512" width="2.8" height="2" fill="#000"/>
<rect x="1644.6" y="512" width="2.8" height="2" fill="#000"/>
<rect x="1654.6" y="512" width="2.8" height="2" fill="#000"/>
<rect x="1665.6" y="512" width="2.8" height="2" fill="#000"/>
<rect x="1676.6" y="512" width="2.8" height="2" fill="#000"/>
<rect x="1687.6" y="512" width="2.8" height="2" fill="#000"/>
<rect x="1697.6" y="512" width="2.8" height="2" fill="#000"/>
<rect x="1708.6" y="512" width="2.8" height="2" fill="#000"/>
<rect x="1719.6" y="512" width="2.8" height="2" fill="#000"/>
<rect x="1729.6" y="512" width="2.8" height="2" fill="#000"/>
<rect x="1740.6" y="512" width="2.8" height="2" fill="#000"/>
<rect x="1751.6" y="512" width="2.8" height="2" fill="#000"/>
<rect x="1762.6" y="512" width="2.8" height="2" fill="#000"/>
<rect x="1772.6" y="512" width="2.8" height="2" fill="#000"/>
<rect x="1783.6" y="512" width="2.8" height="2" fill="#000"/>
<rect x="1794.6" y="512" width="2.8" height="2" fill="#000"/>
<rect x="1804.6" y="512" width="2.8" height="2" fill="#000"/>
<rect x="1815.2" y="528" width="3.7" height="2" fill="#fff"/>
</g>
<g fill="none" stroke="#000" stroke-width="2" shape-rendering="auto">
<ellipse cx="111.5" cy="137" rx="11.3" ry="34.3"/>
<ellipse cx="218.8" cy="250.75" rx="10.6" ry="23.9"/>
<ellipse cx="580.3" cy="236" rx="11.6" ry="36"/>
<ellipse cx="1055.2" cy="518.4" rx="11" ry="21"/>
</g>
<polygon points="109,65 114,65 114,75 117.3,75 111.5,81.3 105.7,75 109,75" fill="#ffff00" shape-rendering="auto"/><polygon points="110.5,66.4 112.5,66.4 112.5,76 115.2,76 111.5,79.8 107.8,76 110.5,76" fill="#000" shape-rendering="auto"/>
<polygon points="216,294.2 221,294.2 221,284.2 224.3,284.2 218.5,277.9 212.7,284.2 216,284.2" fill="#ffff00" shape-rendering="auto"/><polygon points="217.5,292.8 219.5,292.8 219.5,283.2 222.2,283.2 218.5,279.4 214.8,283.2 217.5,283.2" fill="#000" shape-rendering="auto"/>
<polygon points="579.9,167.8 584.9,167.8 584.9,177.8 588.2,177.8 582.4,184.1 576.6,177.8 579.9,177.8" fill="#ffff00" shape-rendering="auto"/><polygon points="581.4,169.2 583.4,169.2 583.4,178.8 586.1,178.8 582.4,182.6 578.7,178.8 581.4,178.8" fill="#000" shape-rendering="auto"/>
<polygon points="1052.8,568 1057.8,568 1057.8,558 1061.1,558 1055.3,551.7 1049.5,558 1052.8,558" fill="#ffff00" shape-rendering="auto"/><polygon points="1054.3,566.6 1056.3,566.6 1056.3,557 1059,557 1055.3,553.2 1051.6,557 1054.3,557" fill="#000" shape-rendering="auto"/>
<circle cx="100.5" cy="88.4" r="5" fill="#1e90ff" stroke="#9a9a9a" stroke-width="0.8" shape-rendering="auto"/>
<text x="297" y="341" font-size="32.5" fill="#fff" textLength="86.5" lengthAdjust="spacingAndGlyphs">no vol</text>
<text x="775.6" y="201.8" font-size="32.2" fill="#fff" textLength="52" lengthAdjust="spacingAndGlyphs">435</text>
<path d="M1839,21 H1822.5 M1829.5,14 L1822.5,21 L1829.5,28" fill="none" stroke="#000" stroke-width="2.3" shape-rendering="auto"/>
<rect x="0" y="695" width="1900" height="1" fill="#000"/>
<rect x="1847" y="692" width="53" height="1" fill="#0000ff"/>
<rect x="1847" y="694" width="53" height="1.4" fill="#0000ff"/>
<rect x="0" y="808" width="1851" height="1" fill="#a8a8a8"/>
<g id="macd" fill="#fff">
<rect x="13" y="791" width="6" height="18"/>
<rect x="23" y="794" width="6" height="15"/>
<rect x="34" y="794" width="6" height="15"/>
<rect x="45" y="796" width="6" height="13"/>
<rect x="55" y="797" width="6" height="12"/>
<rect x="66" y="794" width="6" height="15"/>
<rect x="77" y="794" width="6" height="15"/>
<rect x="88" y="794" width="6" height="15"/>
<rect x="98" y="801" width="6" height="8"/>
<rect x="109" y="809" width="6" height="18"/>
<rect x="120" y="809" width="6" height="65.9"/>
<rect x="130" y="809" width="6" height="86.9"/>
<rect x="141" y="809" width="6" height="114"/>
<rect x="152" y="809" width="6" height="137"/>
<rect x="163" y="809" width="6" height="114"/>
<rect x="173" y="809" width="6" height="122"/>
<rect x="184" y="809" width="6" height="96.9"/>
<rect x="195" y="809" width="6" height="80.9"/>
<rect x="206" y="809" width="6" height="48.8"/>
<rect x="216" y="809" width="6" height="18"/>
<rect x="227" y="804" width="6" height="5"/>
<rect x="238" y="795" width="6" height="14"/>
<rect x="248" y="791" width="6" height="18"/>
<rect x="259" y="776.9" width="6" height="32.1"/>
<rect x="270" y="769.9" width="6" height="39.1"/>
<rect x="281" y="757.9" width="6" height="51.1"/>
<rect x="291" y="747.9" width="6" height="61.1"/>
<rect x="302" y="744.9" width="6" height="64.1"/>
<rect x="313" y="738.9" width="6" height="70.1"/>
<rect x="324" y="741.9" width="6" height="67.1"/>
<rect x="334" y="749.9" width="6" height="59.1"/>
<rect x="345" y="751.9" width="6" height="57.1"/>
<rect x="356" y="753.9" width="6" height="55.1"/>
<rect x="366" y="748.9" width="6" height="60.1"/>
<rect x="377" y="750.9" width="6" height="58.1"/>
<rect x="388" y="755.9" width="6" height="53.1"/>
<rect x="399" y="760.9" width="6" height="48.1"/>
<rect x="409" y="771.9" width="6" height="37.1"/>
<rect x="420" y="778.9" width="6" height="30.1"/>
<rect x="431" y="781.9" width="6" height="27.1"/>
<rect x="441" y="782.9" width="6" height="26.1"/>
<rect x="452" y="788" width="6" height="21"/>
<rect x="463" y="791" width="6" height="18"/>
<rect x="474" y="795" width="6" height="14"/>
<rect x="484" y="797" width="6" height="12"/>
<rect x="495" y="790" width="6" height="19"/>
<rect x="506" y="787" width="6" height="22"/>
<rect x="517" y="786" width="6" height="23"/>
<rect x="527" y="787" width="6" height="22"/>
<rect x="538" y="798" width="6" height="11"/>
<rect x="549" y="804" width="6" height="5"/>
<rect x="559" y="809" width="6" height="1"/>
<rect x="570" y="809" width="6" height="10"/>
<rect x="581" y="809" width="6" height="30"/>
<rect x="592" y="809" width="6" height="44"/>
<rect x="602" y="809" width="6" height="55.1"/>
<rect x="613" y="809" width="6" height="60.1"/>
<rect x="624" y="809" width="6" height="62.1"/>
<rect x="635" y="809" width="6" height="67.1"/>
<rect x="645" y="809" width="6" height="64.1"/>
<rect x="656" y="809" width="6" height="55.1"/>
<rect x="667" y="809" width="6" height="37.1"/>
<rect x="677" y="809" width="6" height="27"/>
<rect x="688" y="809" width="6" height="37.1"/>
<rect x="699" y="809" width="6" height="28"/>
<rect x="710" y="809" width="6" height="22"/>
<rect x="720" y="809" width="6" height="13"/>
<rect x="731" y="809" width="6" height="13"/>
<rect x="742" y="809" width="6" height="19"/>
<rect x="752" y="809" width="6" height="22"/>
<rect x="763" y="809" width="6" height="21"/>
<rect x="774" y="809" width="6" height="42.1"/>
<rect x="785" y="809" width="6" height="54.1"/>
<rect x="795" y="809" width="6" height="58.1"/>
<rect x="806" y="809" width="6" height="67.1"/>
<rect x="817" y="809" width="6" height="66.1"/>
<rect x="828" y="809" width="6" height="50.1"/>
<rect x="838" y="809" width="6" height="44.1"/>
<rect x="849" y="809" width="6" height="36.1"/>
<rect x="860" y="809" width="6" height="34.1"/>
<rect x="870" y="809" width="6" height="19"/>
<rect x="881" y="809" width="6" height="18"/>
<rect x="892" y="809" width="6" height="9"/>
<rect x="903" y="801" width="6" height="8"/>
<rect x="913" y="801" width="6" height="8"/>
<rect x="924" y="809" width="6" height="3"/>
<rect x="935" y="809" width="6" height="12"/>
<rect x="946" y="809" width="6" height="8"/>
<rect x="956" y="803" width="6" height="6"/>
<rect x="967" y="799" width="6" height="10"/>
<rect x="978" y="793" width="6" height="16"/>
<rect x="988" y="789" width="6" height="20"/>
<rect x="999" y="787" width="6" height="22"/>
<rect x="1010" y="781" width="6" height="28"/>
<rect x="1021" y="781" width="6" height="28"/>
<rect x="1031" y="771.9" width="6" height="37.1"/>
<rect x="1042" y="757.9" width="6" height="51.1"/>
<rect x="1053" y="740.9" width="6" height="68.1"/>
<rect x="1063" y="730.9" width="6" height="78.1"/>
<rect x="1074" y="715.8" width="6" height="93.2"/>
<rect x="1085" y="709.8" width="6" height="99.2"/>
<rect x="1096" y="714.8" width="6" height="94.2"/>
<rect x="1106" y="720.8" width="6" height="88.2"/>
<rect x="1117" y="734.9" width="6" height="74.1"/>
<rect x="1128" y="754.9" width="6" height="54.1"/>
<rect x="1139" y="775.9" width="6" height="33.1"/>
<rect x="1149" y="794" width="6" height="15"/>
<rect x="1160" y="797" width="6" height="12"/>
<rect x="1171" y="791" width="6" height="18"/>
<rect x="1181" y="780" width="6" height="29"/>
<rect x="1192" y="774.9" width="6" height="34.1"/>
<rect x="1203" y="762.9" width="6" height="46.1"/>
<rect x="1214" y="752.9" width="6" height="56.1"/>
<rect x="1224" y="754.9" width="6" height="54.1"/>
<rect x="1235" y="762.9" width="6" height="46.1"/>
<rect x="1246" y="775.9" width="6" height="33.1"/>
<rect x="1257" y="792" width="6" height="17"/>
<rect x="1267" y="805" width="6" height="4"/>
<rect x="1278" y="809" width="6" height="8"/>
<rect x="1289" y="809" width="6" height="12"/>
<rect x="1299" y="809" width="6" height="12"/>
<rect x="1310" y="809" width="6" height="8"/>
<rect x="1321" y="809" width="6" height="10"/>
<rect x="1332" y="809" width="6" height="3"/>
<rect x="1342" y="809" width="6" height="1"/>
<rect x="1353" y="809" width="6" height="1"/>
<rect x="1364" y="809" width="6" height="3"/>
<rect x="1375" y="809" width="6" height="1"/>
<rect x="1385" y="807" width="6" height="2"/>
<rect x="1396" y="809" width="6" height="2"/>
<rect x="1407" y="809" width="6" height="3"/>
<rect x="1417" y="809" width="6" height="16"/>
<rect x="1428" y="809" width="6" height="12"/>
<rect x="1439" y="809" width="6" height="4"/>
<rect x="1450" y="809" width="6" height="17"/>
<rect x="1460" y="809" width="6" height="22"/>
<rect x="1471" y="809" width="6" height="26"/>
<rect x="1482" y="809" width="6" height="40.1"/>
<rect x="1492" y="809" width="6" height="43.1"/>
<rect x="1503" y="809" width="6" height="42.1"/>
<rect x="1514" y="809" width="6" height="41.1"/>
<rect x="1525" y="809" width="6" height="32.1"/>
<rect x="1535" y="809" width="6" height="27"/>
<rect x="1546" y="809" width="6" height="13"/>
<rect x="1557" y="809" width="6" height="1"/>
<rect x="1568" y="802" width="6" height="7"/>
<rect x="1578" y="799" width="6" height="10"/>
<rect x="1589" y="796" width="6" height="13"/>
<rect x="1600" y="796" width="6" height="13"/>
<rect x="1610" y="802" width="6" height="7"/>
<rect x="1621" y="803" width="6" height="6"/>
<rect x="1632" y="800" width="6" height="9"/>
<rect x="1643" y="794" width="6" height="15"/>
<rect x="1653" y="790" width="6" height="19"/>
<rect x="1664" y="790" width="6" height="19"/>
<rect x="1675" y="790" width="6" height="19"/>
<rect x="1686" y="793" width="6" height="16"/>
<rect x="1696" y="789" width="6" height="20"/>
<rect x="1707" y="783" width="6" height="26"/>
<rect x="1718" y="783" width="6" height="26"/>
<rect x="1728" y="785" width="6" height="24"/>
<rect x="1739" y="796" width="6" height="13"/>
<rect x="1750" y="803" width="6" height="6"/>
<rect x="1761" y="804" width="6" height="5"/>
<rect x="1771" y="804" width="6" height="5"/>
<rect x="1782" y="807" width="6" height="2"/>
<rect x="1793" y="809" width="6" height="4"/>
<rect x="1803" y="809" width="6" height="8"/>
<rect x="1814" y="809" width="6" height="13"/>
</g>
<rect x="1853" y="0" width="1" height="966" fill="#000"/>
<rect x="0" y="965" width="1854" height="1" fill="#000"/>
<g class="st" fill="#fff" font-size="11.5">
<rect x="1854" y="23.5" width="5" height="1" fill="#000"/>
<text x="1862" y="29" textLength="29" lengthAdjust="spacingAndGlyphs">24580</text>
<rect x="1854" y="63.5" width="5" height="1" fill="#000"/>
<text x="1862" y="68.5" textLength="29" lengthAdjust="spacingAndGlyphs">24560</text>
<rect x="1854" y="102.5" width="5" height="1" fill="#000"/>
<text x="1862" y="108" textLength="29" lengthAdjust="spacingAndGlyphs">24540</text>
<rect x="1854" y="142.5" width="5" height="1" fill="#000"/>
<text x="1862" y="147.5" textLength="29" lengthAdjust="spacingAndGlyphs">24520</text>
<rect x="1854" y="181.5" width="5" height="1" fill="#000"/>
<text x="1862" y="187" textLength="29" lengthAdjust="spacingAndGlyphs">24500</text>
<rect x="1854" y="221.5" width="5" height="1" fill="#000"/>
<text x="1862" y="226.5" textLength="29" lengthAdjust="spacingAndGlyphs">24480</text>
<rect x="1854" y="260.5" width="5" height="1" fill="#000"/>
<text x="1862" y="266" textLength="29" lengthAdjust="spacingAndGlyphs">24460</text>
<rect x="1854" y="300.5" width="5" height="1" fill="#000"/>
<text x="1862" y="305.5" textLength="29" lengthAdjust="spacingAndGlyphs">24440</text>
<rect x="1854" y="339.5" width="5" height="1" fill="#000"/>
<text x="1862" y="345" textLength="29" lengthAdjust="spacingAndGlyphs">24420</text>
<rect x="1854" y="379.5" width="5" height="1" fill="#000"/>
<text x="1862" y="384.5" textLength="29" lengthAdjust="spacingAndGlyphs">24400</text>
<rect x="1854" y="418.5" width="5" height="1" fill="#000"/>
<text x="1862" y="424" textLength="29" lengthAdjust="spacingAndGlyphs">24380</text>
<rect x="1854" y="458.5" width="5" height="1" fill="#000"/>
<text x="1862" y="463.5" textLength="29" lengthAdjust="spacingAndGlyphs">24360</text>
<rect x="1854" y="497.5" width="5" height="1" fill="#000"/>
<text x="1862" y="503" textLength="29" lengthAdjust="spacingAndGlyphs">24340</text>
<rect x="1854" y="537.5" width="5" height="1" fill="#000"/>
<text x="1862" y="542.5" textLength="29" lengthAdjust="spacingAndGlyphs">24320</text>
<rect x="1854" y="576.5" width="5" height="1" fill="#000"/>
<text x="1862" y="582" textLength="29" lengthAdjust="spacingAndGlyphs">24300</text>
<rect x="1854" y="616.5" width="5" height="1" fill="#000"/>
<text x="1862" y="621.5" textLength="29" lengthAdjust="spacingAndGlyphs">24280</text>
<rect x="1854" y="655.5" width="5" height="1" fill="#000"/>
<text x="1862" y="661" textLength="29" lengthAdjust="spacingAndGlyphs">24260</text>
</g>
<g class="st" fill="#fff" font-size="11.5">
<rect x="1854" y="727.5" width="5" height="1" fill="#000"/>
<text x="1862" y="733" textLength="12" lengthAdjust="spacingAndGlyphs">10</text>
<rect x="1854" y="767.5" width="5" height="1" fill="#000"/>
<text x="1862" y="773" textLength="6" lengthAdjust="spacingAndGlyphs">5</text>
<rect x="1854" y="807.5" width="5" height="1" fill="#000"/>
<text x="1862" y="813" textLength="6" lengthAdjust="spacingAndGlyphs">0</text>
<rect x="1854" y="847.5" width="5" height="1" fill="#000"/>
<text x="1862" y="853" textLength="10" lengthAdjust="spacingAndGlyphs">-5</text>
<rect x="1854" y="887.5" width="5" height="1" fill="#000"/>
<text x="1862" y="893" textLength="16" lengthAdjust="spacingAndGlyphs">-10</text>
<rect x="1854" y="927.5" width="5" height="1" fill="#000"/>
<text x="1862" y="933" textLength="16" lengthAdjust="spacingAndGlyphs">-15</text>
</g>
<polygon points="1847,530.5 1853.5,521 1899,521 1899,539.5 1853.5,539.5" fill="#000" shape-rendering="auto"/>
<text class="st" x="1862" y="534.8" font-size="11.5" fill="#fff" textLength="29" lengthAdjust="spacingAndGlyphs">24324</text>
<polygon points="1847.2,821.5 1853.5,812.8 1899.3,812.8 1899.3,830.2 1853.5,830.2" fill="#fff" stroke="#000" stroke-width="1" shape-rendering="auto"/>
<text x="1862.4" y="825.8" font-size="11.5" fill="#000" stroke="#000" stroke-width="0.2" textLength="21.8" lengthAdjust="spacingAndGlyphs">-1,71</text>
<polygon points="1846.5,961 1899,961 1899,968 1851.5,968" fill="#ff0000" shape-rendering="auto"/>
<clipPath id="cm"><rect x="1847" y="961" width="53" height="7"/></clipPath>
<text x="1862.5" y="966" font-size="11.5" fill="#fff" clip-path="url(#cm)" textLength="15" lengthAdjust="spacingAndGlyphs">-42</text>
<rect x="1899" y="961" width="1" height="7" fill="#300"/>
<g class="st" fill="#fff" font-size="11.5" text-anchor="middle">
<rect x="25" y="966" width="1" height="5" fill="#000"/>
<text x="25.7" y="988" textLength="25" lengthAdjust="spacingAndGlyphs">21:13</text>
<rect x="79" y="966" width="1" height="5" fill="#000"/>
<rect x="111" y="966" width="1" height="5" fill="#000"/>
<text x="111.7" y="988" textLength="42" lengthAdjust="spacingAndGlyphs">11 de jul.</text>
<rect x="175" y="966" width="1" height="5" fill="#000"/>
<text x="175.7" y="988" textLength="25" lengthAdjust="spacingAndGlyphs">03:05</text>
<rect x="229" y="966" width="1" height="5" fill="#000"/>
<text x="229.7" y="988" textLength="25" lengthAdjust="spacingAndGlyphs">03:42</text>
<rect x="283" y="966" width="1" height="5" fill="#000"/>
<text x="283.7" y="988" textLength="25" lengthAdjust="spacingAndGlyphs">04:18</text>
<rect x="336" y="966" width="1" height="5" fill="#000"/>
<text x="336.7" y="988" textLength="25" lengthAdjust="spacingAndGlyphs">04:54</text>
<rect x="390" y="966" width="1" height="5" fill="#000"/>
<text x="390.7" y="988" textLength="25" lengthAdjust="spacingAndGlyphs">05:45</text>
<rect x="443" y="966" width="1" height="5" fill="#000"/>
<text x="443.7" y="988" textLength="25" lengthAdjust="spacingAndGlyphs">06:28</text>
<rect x="497" y="966" width="1" height="5" fill="#000"/>
<text x="497.7" y="988" textLength="25" lengthAdjust="spacingAndGlyphs">07:05</text>
<rect x="551" y="966" width="1" height="5" fill="#000"/>
<text x="551.7" y="988" textLength="25" lengthAdjust="spacingAndGlyphs">07:41</text>
<rect x="604" y="966" width="1" height="5" fill="#000"/>
<text x="604.7" y="988" textLength="25" lengthAdjust="spacingAndGlyphs">08:17</text>
<rect x="658" y="966" width="1" height="5" fill="#000"/>
<text x="658.7" y="988" textLength="25" lengthAdjust="spacingAndGlyphs">08:53</text>
<rect x="712" y="966" width="1" height="5" fill="#000"/>
<text x="712.7" y="988" textLength="25" lengthAdjust="spacingAndGlyphs">09:30</text>
<rect x="765" y="966" width="1" height="5" fill="#000"/>
<text x="765.7" y="988" textLength="25" lengthAdjust="spacingAndGlyphs">10:06</text>
<rect x="819" y="966" width="1" height="5" fill="#000"/>
<text x="819.7" y="988" textLength="25" lengthAdjust="spacingAndGlyphs">10:42</text>
<rect x="872" y="966" width="1" height="5" fill="#000"/>
<text x="872.7" y="988" textLength="25" lengthAdjust="spacingAndGlyphs">11:18</text>
<rect x="926" y="966" width="1" height="5" fill="#000"/>
<text x="926.7" y="988" textLength="25" lengthAdjust="spacingAndGlyphs">11:55</text>
<rect x="980" y="966" width="1" height="5" fill="#000"/>
<text x="980.7" y="988" textLength="25" lengthAdjust="spacingAndGlyphs">12:31</text>
<rect x="1033" y="966" width="1" height="5" fill="#000"/>
<text x="1033.7" y="988" textLength="25" lengthAdjust="spacingAndGlyphs">13:07</text>
<rect x="1087" y="966" width="1" height="5" fill="#000"/>
<text x="1087.7" y="988" textLength="25" lengthAdjust="spacingAndGlyphs">13:43</text>
<rect x="1141" y="966" width="1" height="5" fill="#000"/>
<text x="1141.7" y="988" textLength="25" lengthAdjust="spacingAndGlyphs">14:20</text>
<rect x="1194" y="966" width="1" height="5" fill="#000"/>
<text x="1194.7" y="988" textLength="25" lengthAdjust="spacingAndGlyphs">14:56</text>
<rect x="1248" y="966" width="1" height="5" fill="#000"/>
<text x="1248.7" y="988" textLength="25" lengthAdjust="spacingAndGlyphs">15:32</text>
<rect x="1301" y="966" width="1" height="5" fill="#000"/>
<text x="1301.7" y="988" textLength="25" lengthAdjust="spacingAndGlyphs">16:08</text>
<rect x="1355" y="966" width="1" height="5" fill="#000"/>
<text x="1355.7" y="988" textLength="25" lengthAdjust="spacingAndGlyphs">16:45</text>
<rect x="1409" y="966" width="1" height="5" fill="#000"/>
<text x="1409.7" y="988" textLength="25" lengthAdjust="spacingAndGlyphs">17:21</text>
<rect x="1462" y="966" width="1" height="5" fill="#000"/>
<text x="1462.7" y="988" textLength="25" lengthAdjust="spacingAndGlyphs">17:57</text>
<rect x="1516" y="966" width="1" height="5" fill="#000"/>
<text x="1516.7" y="988" textLength="25" lengthAdjust="spacingAndGlyphs">18:33</text>
<rect x="1570" y="966" width="1" height="5" fill="#000"/>
<text x="1570.7" y="988" textLength="25" lengthAdjust="spacingAndGlyphs">19:10</text>
<rect x="1623" y="966" width="1" height="5" fill="#000"/>
<text x="1623.7" y="988" textLength="25" lengthAdjust="spacingAndGlyphs">19:46</text>
<rect x="1677" y="966" width="1" height="5" fill="#000"/>
<text x="1677.7" y="988" textLength="25" lengthAdjust="spacingAndGlyphs">20:22</text>
<rect x="1730" y="966" width="1" height="5" fill="#000"/>
<text x="1730.7" y="988" textLength="25" lengthAdjust="spacingAndGlyphs">20:58</text>
<rect x="1784" y="966" width="1" height="5" fill="#000"/>
<text x="1784.7" y="988" textLength="25" lengthAdjust="spacingAndGlyphs">21:35</text>
<rect x="1838" y="966" width="1" height="5" fill="#000"/>
<text x="1838.7" y="988" textLength="42" lengthAdjust="spacingAndGlyphs">14 de jul.</text>
</g>
<text class="st" x="5.5" y="712" font-size="11.5" fill="#fff" textLength="190" lengthAdjust="spacingAndGlyphs">MACD(FDAX 09-25 (435 Second),12,26,9)</text>
<text class="st" x="5.5" y="952" font-size="11.5" fill="#fff" textLength="112.5" lengthAdjust="spacingAndGlyphs">© 2025 NinjaTrader, LLC</text>
<text x="4.3" y="1008" font-size="10.3" fill="#000" textLength="46.5" lengthAdjust="spacingAndGlyphs">FDAX 09-25</text>
<text x="1786.8" y="1009" font-size="15.5" font-weight="bold" fill="#f34f22" textLength="111.3" lengthAdjust="spacingAndGlyphs">NINJATRADER</text>
</svg></body></html>
